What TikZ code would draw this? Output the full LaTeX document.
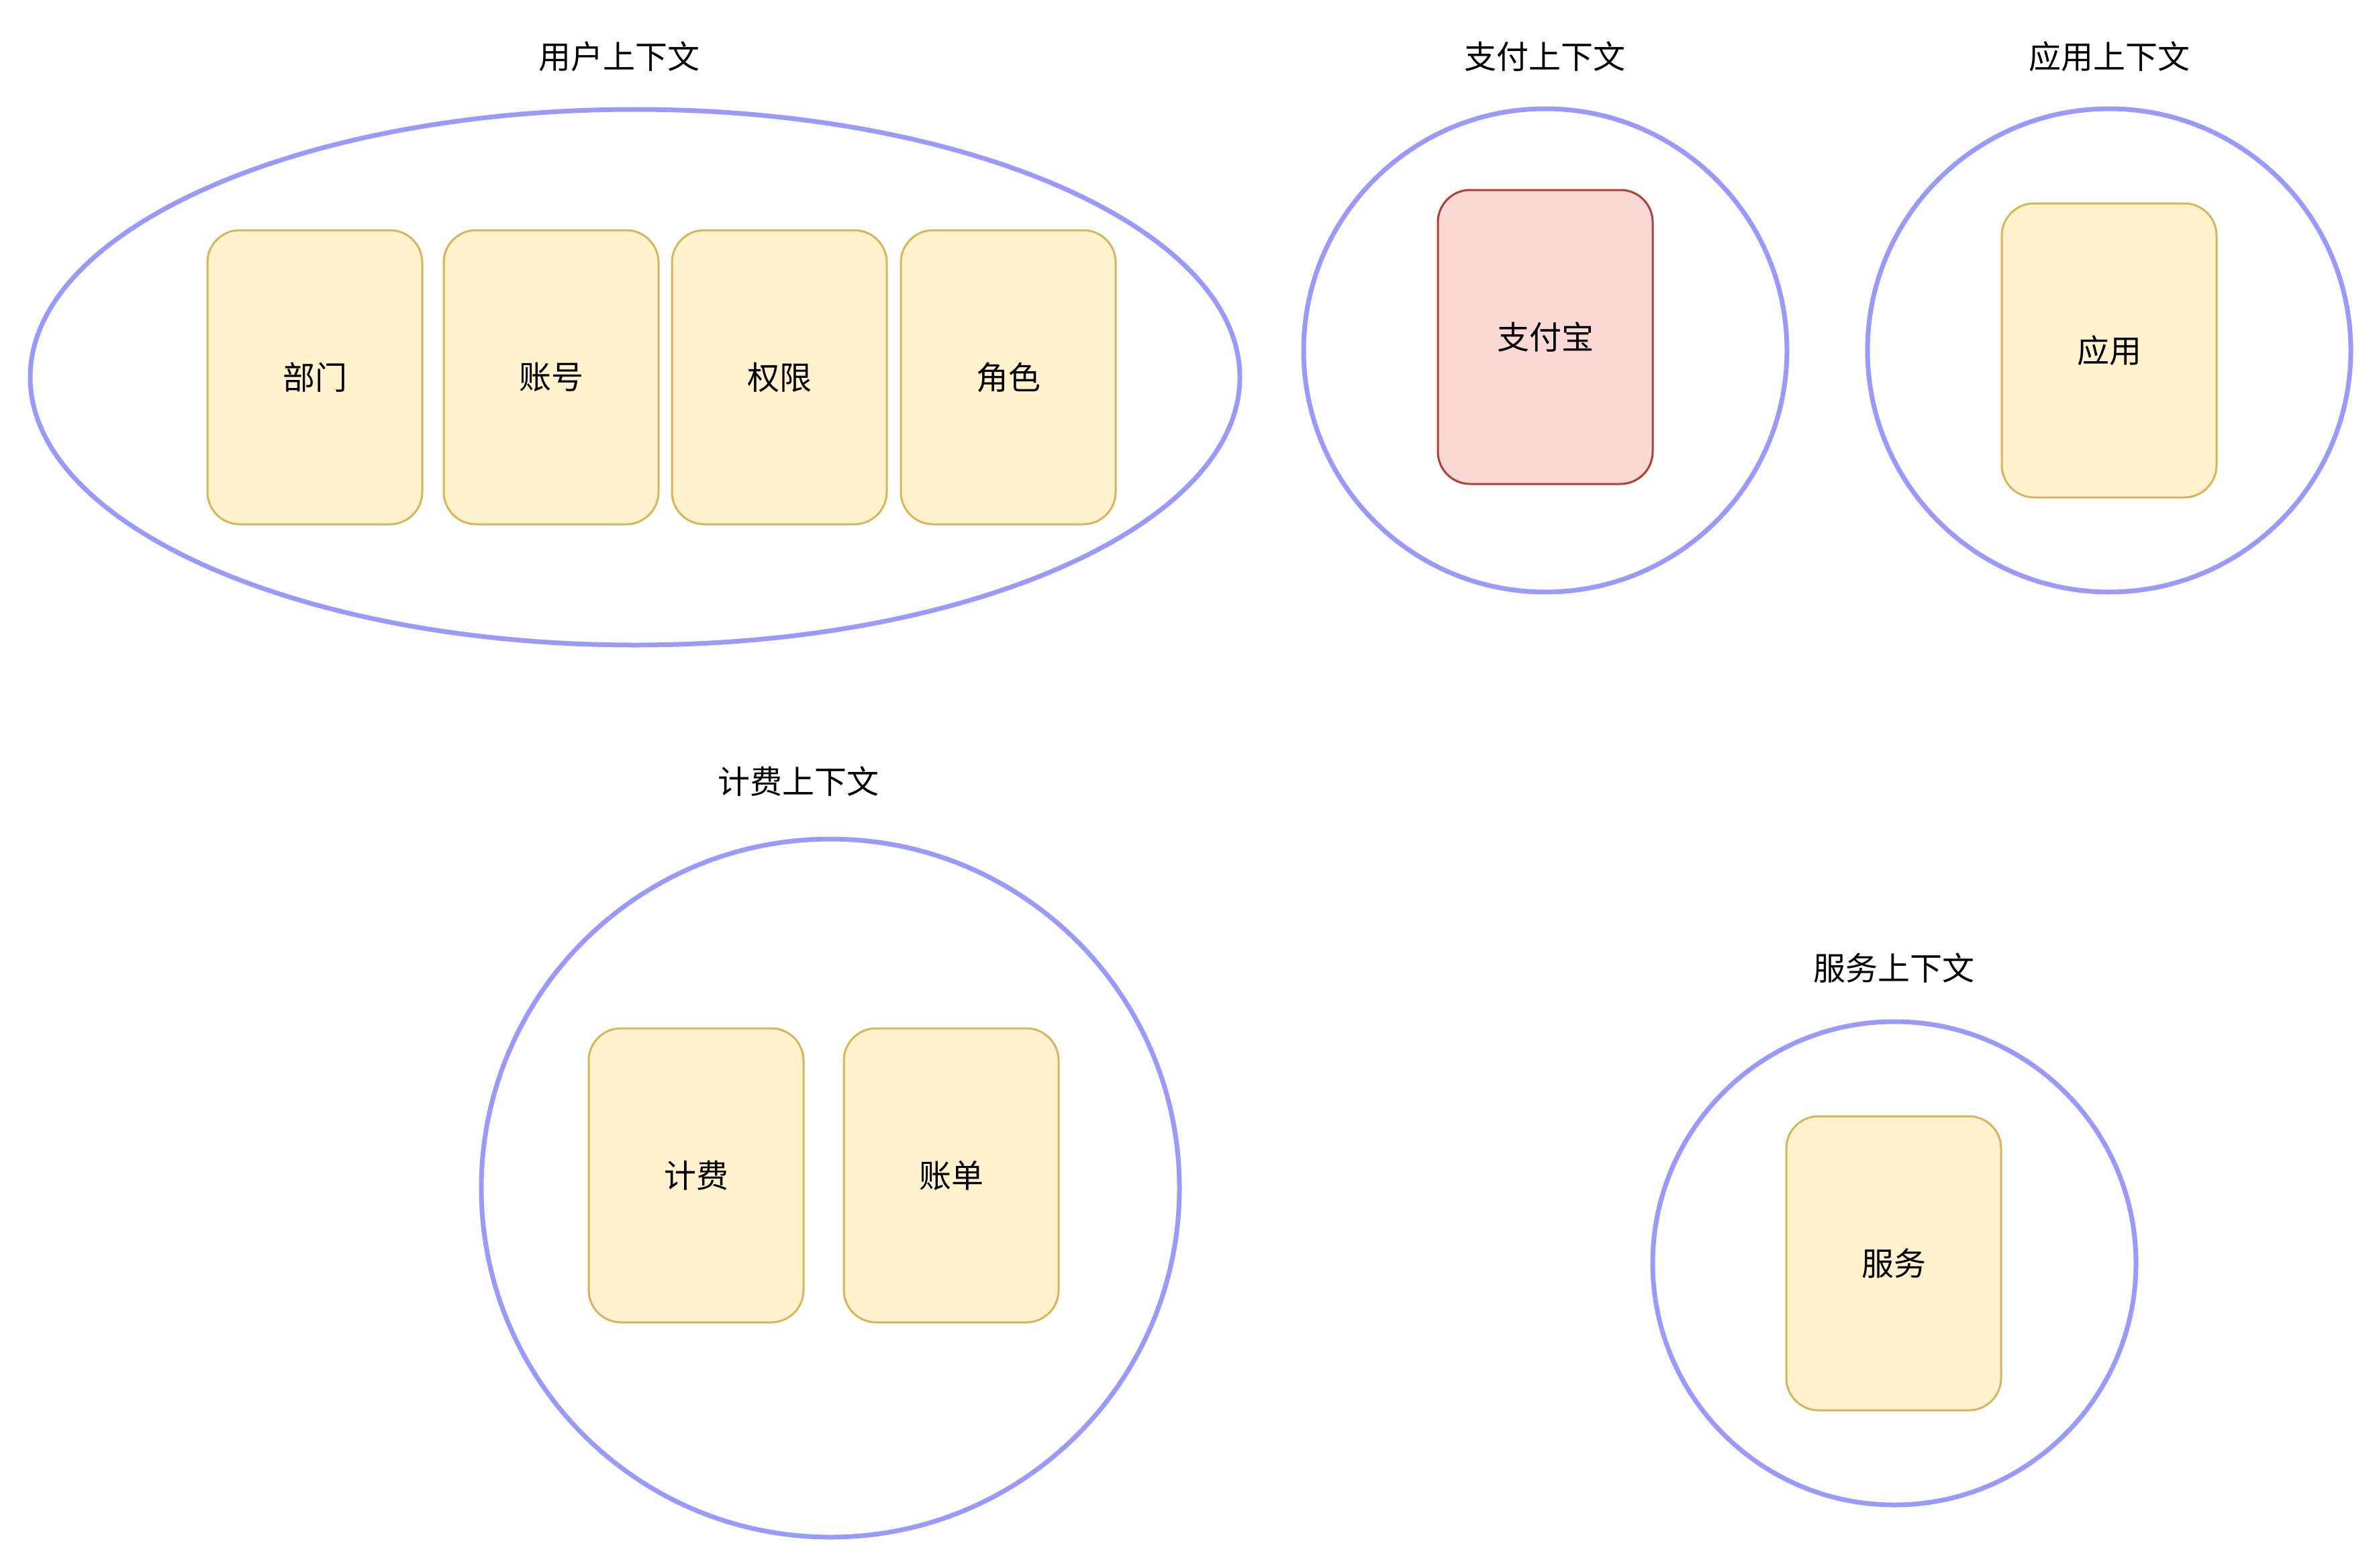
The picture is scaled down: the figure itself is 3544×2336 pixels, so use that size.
\documentclass[tikz,border=0pt]{standalone}
\usepackage{fontspec}
\newfontfamily\cjk{Noto Sans CJK SC}
\usetikzlibrary{shapes.geometric}
\definecolor{ctxline}{HTML}{9999FF}
\definecolor{yfill}{HTML}{FFF2CC}
\definecolor{yline}{HTML}{D6B656}
\definecolor{rfill}{HTML}{FAD9D5}
\definecolor{rline}{HTML}{AE4132}
\tikzset{
  ctx/.style={draw=ctxline, line width=7pt, inner sep=0pt},
  entity/.style={rectangle, rounded corners=48pt, draw=yline, fill=yfill, line width=3pt,
    minimum width=320pt, minimum height=438pt, inner sep=0pt,
    font=\cjk\fontsize{48}{58}\selectfont},
  redentity/.style={entity, draw=rline, fill=rfill},
  title/.style={font=\cjk\fontsize{48}{58}\selectfont, inner sep=0pt}
}
\begin{document}
\begin{tikzpicture}[x=1pt,y=-1pt]
\useasboundingbox (0,0) rectangle (3544,2336);
% user context
\node[title] (tuser) at (922,84) {用户上下文};
\node[ctx, ellipse, minimum width=1802pt, minimum height=798pt] (user) at (946,562) {};
\node[entity] (bumen) at (469,562) {部门};
\node[entity] (zhanghao) at (821,562) {账号};
\node[entity] (quanxian) at (1161,562) {权限};
\node[entity] (juese) at (1502,562) {角色};
% payment context
\node[title] (tpay) at (2301,84) {支付上下文};
\node[ctx, circle, minimum size=720pt] (pay) at (2302,522) {};
\node[redentity] (alipay) at (2302,502) {支付宝};
% app context
\node[title] (tapp) at (3142,84) {应用上下文};
\node[ctx, circle, minimum size=720pt] (app) at (3142,522) {};
\node[entity] (yingyong) at (3142,522) {应用};
% billing context
\node[title] (tbill) at (1189,1164) {计费上下文};
\node[ctx, circle, minimum size=1040pt] (bill) at (1237,1770) {};
\node[entity] (jifei) at (1037,1751) {计费};
\node[entity] (zhangdan) at (1417,1751) {账单};
% service context
\node[title] (tsvc) at (2821,1442) {服务上下文};
\node[ctx, circle, minimum size=720pt] (svc) at (2822,1882) {};
\node[entity] (fuwu) at (2821,1882) {服务};
\end{tikzpicture}
\end{document}
